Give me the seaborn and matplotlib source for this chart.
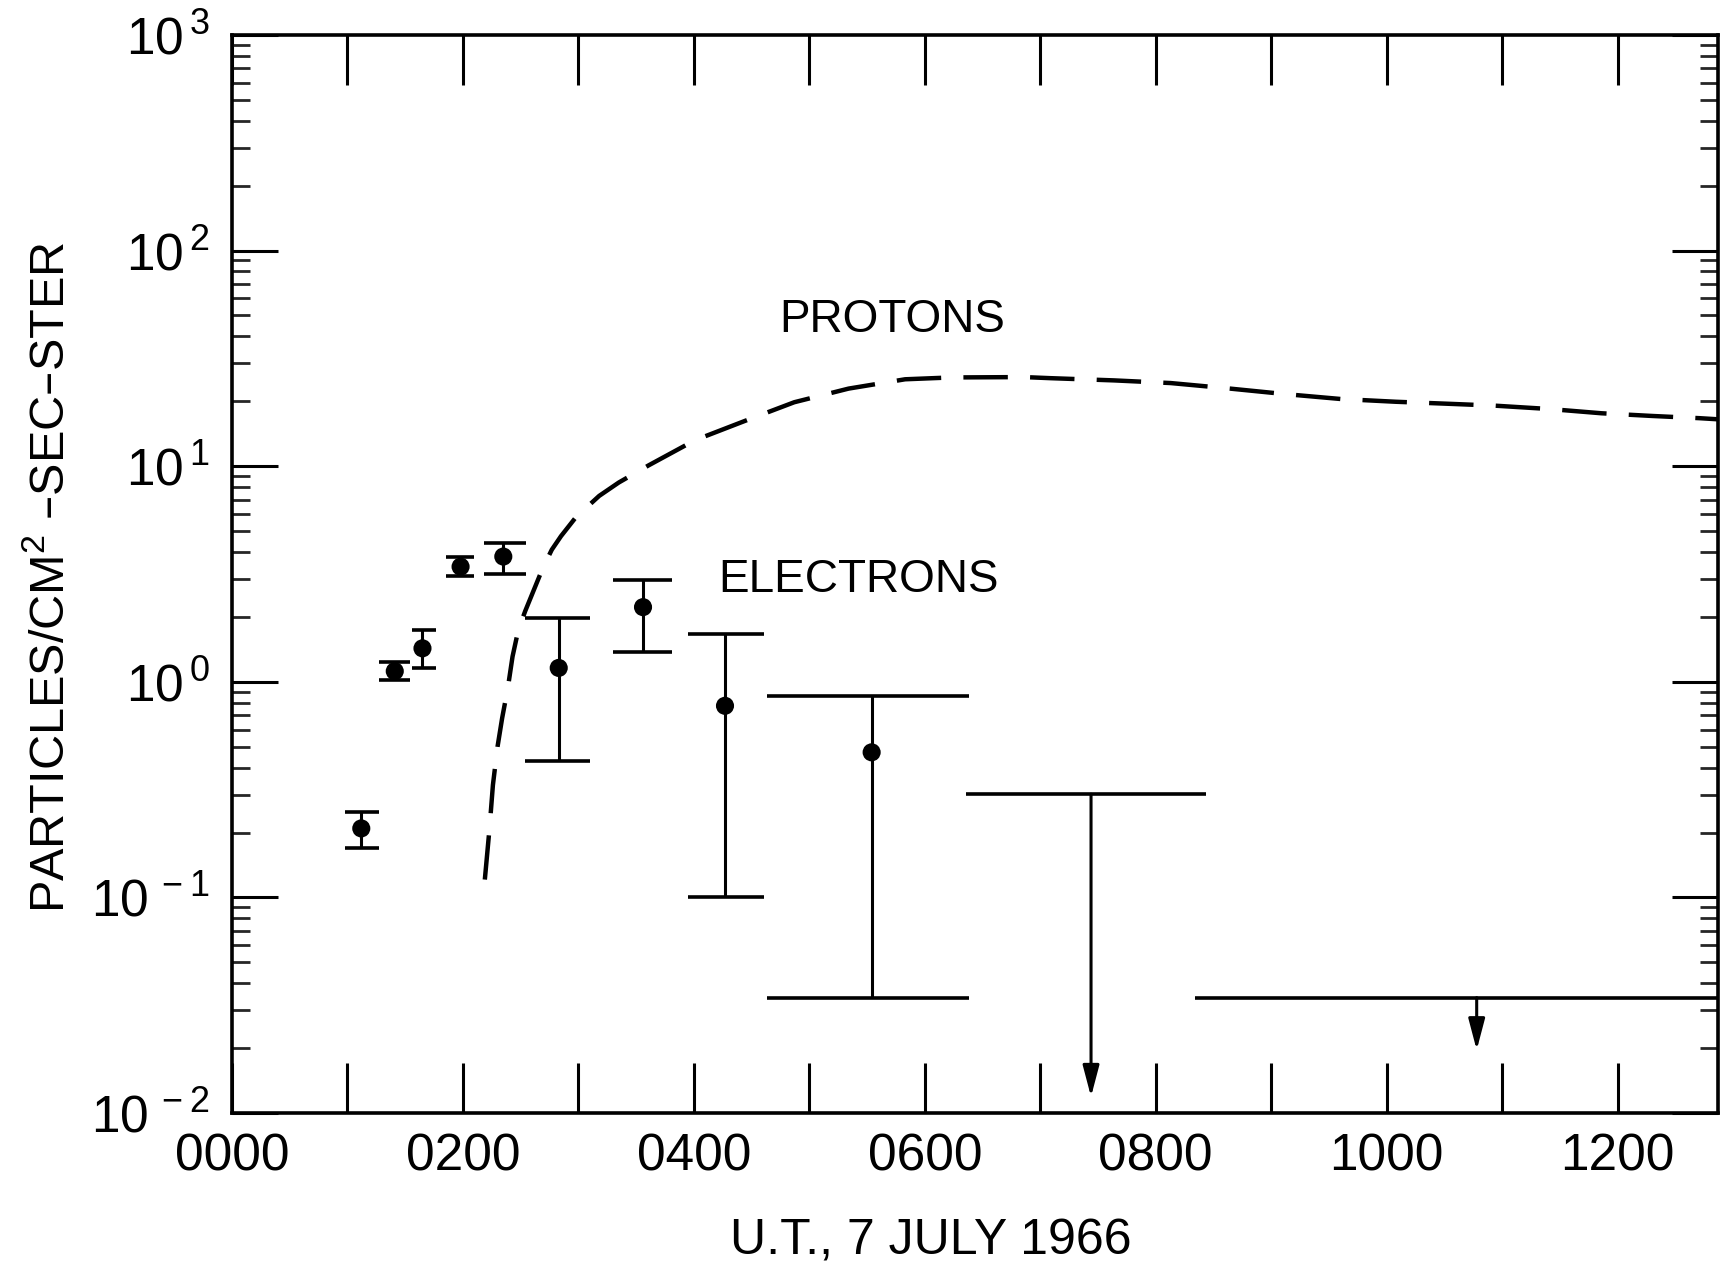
import matplotlib
matplotlib.use("Agg")
import matplotlib.pyplot as plt
import numpy as np
import seaborn as sns
from matplotlib.ticker import FixedLocator, LogLocator, NullFormatter, FuncFormatter

# ── data (hours U.T. on 7 July 1966, flux in particles/cm2-sec-ster) ─────────
elec_time = [1.12, 1.41, 1.65, 1.98, 2.35, 2.83, 3.56, 4.27, 5.54]
elec_flux = [0.209, 1.12, 1.43, 3.42, 3.81, 1.16, 2.22, 0.774, 0.471]
elec_hi = [0.250, 1.24, 1.74, 3.78, 4.42, 1.97, 2.98, 1.66, 0.857]
elec_lo = [0.169, 1.02, 1.16, 3.10, 3.16, 0.43, 1.38, 0.101, 0.034]
elec_start = [0.98, 1.27, 1.56, 1.85, 2.18, 2.54, 3.30, 3.95, 4.63]
elec_end = [1.27, 1.54, 1.77, 2.10, 2.55, 3.10, 3.81, 4.61, 6.38]

# upper limits
lim_time = [7.44, 10.78]
lim_flux = [0.301, 0.0343]
lim_start = [6.36, 8.34]
lim_end = [8.44, 13.2]
lim_arrow_to = [0.0119, 0.0196]

proton_time = [2.19, 2.23, 2.26, 2.30, 2.34, 2.39, 2.43, 2.48, 2.54, 2.69,
               2.77, 2.85, 2.98, 3.18, 3.35, 3.61, 4.01, 4.44, 4.87, 5.34,
               5.83, 6.23, 6.86, 7.09, 7.64, 8.13, 8.61, 9.12, 9.60, 10.08,
               10.51, 10.93, 11.42, 11.86, 12.30, 12.71, 12.87]
proton_flux = [0.121, 0.207, 0.332, 0.500, 0.679, 0.942, 1.31, 1.74, 2.13, 3.35,
               4.10, 4.74, 5.81, 7.28, 8.40, 10.1, 13.2, 16.2, 19.8, 22.9,
               25.3, 25.8, 25.9, 25.6, 25.0, 24.3, 23.0, 21.6, 20.5, 19.9,
               19.5, 19.1, 18.4, 17.6, 17.1, 16.7, 16.5]

hour_ticks = list(range(0, 13))
hour_labels = [f"{h:02d}00" if h % 2 == 0 else "" for h in hour_ticks]

# ── style ────────────────────────────────────────────────────────────────────
sns.set_style("ticks")
plt.rcParams["font.family"] = ["Liberation Sans", "DejaVu Sans"]
plt.rcParams["mathtext.default"] = "regular"
INK = "black"

fig = plt.figure(figsize=(17.31, 12.76), dpi=100)
ax = fig.add_axes([0.134, 0.1277, 0.8585, 0.8449])
ax.set_yscale("log")

# protons (dashed)
sns.lineplot(x=proton_time, y=proton_flux, ax=ax, color=INK, lw=3.2, sort=True)
ax.lines[-1].set_dashes((10, 5))

# electrons: time-interval caps + vertical ranges + dots
ax.vlines(elec_time, elec_lo, elec_hi, color=INK, lw=2.2)
ax.hlines(elec_hi, elec_start, elec_end, color=INK, lw=2.6)
ax.hlines(elec_lo, elec_start, elec_end, color=INK, lw=2.6)
sns.scatterplot(x=elec_time, y=elec_flux, ax=ax, color=INK, s=170,
                edgecolor="none", zorder=5)

# upper limits with arrows
ax.hlines(lim_flux, lim_start, lim_end, color=INK, lw=2.6)
for t, f, tip in zip(lim_time, lim_flux, lim_arrow_to):
    ax.annotate("", xy=(t, tip), xytext=(t, f),
                arrowprops=dict(arrowstyle="-|>,head_length=1.9,head_width=0.5",
                                color=INK, lw=2.2, shrinkA=0, shrinkB=0))

ax.text(5.72, 47.7, "PROTONS", fontsize=33, ha="center", va="center", color=INK)
ax.text(5.43, 2.98, "ELECTRONS", fontsize=33, ha="center", va="center", color=INK)

# ── axes ─────────────────────────────────────────────────────────────────────
ax.set_xlim(0, 12.87)
ax.set_ylim(1e-2, 1e3)
ax.xaxis.set_major_locator(FixedLocator(hour_ticks))
ax.set_xticklabels(hour_labels)
ax.yaxis.set_major_locator(LogLocator(base=10, numticks=10))
ax.yaxis.set_minor_locator(LogLocator(base=10, subs=np.arange(2, 10), numticks=20))
ax.yaxis.set_minor_formatter(NullFormatter())
ax.yaxis.set_major_formatter(FuncFormatter(lambda v, p: rf"$10^{{\,{int(round(np.log10(v)))}}}$"))

ax.tick_params(axis="x", which="major", direction="in", length=36, width=2.2,
               top=True, bottom=True, labelsize=37, pad=14, colors=INK)
ax.tick_params(axis="y", which="major", direction="in", length=33, width=2.2,
               left=True, right=True, labelsize=37, pad=16, colors=INK)
ax.tick_params(axis="y", which="minor", direction="in", length=13, width=2.0,
               left=True, right=True)
for s in ax.spines.values():
    s.set_linewidth(2.6)
    s.set_color(INK)

ax.set_xlabel("U.T., 7 JULY 1966", fontsize=36, color=INK)
ax.xaxis.set_label_coords(0.47, -0.098)
ax.set_ylabel("PARTICLES/CM$^{2}$ \u2013SEC\u2013STER", fontsize=35, color=INK)
ax.yaxis.set_label_coords(-0.106, 0.497)

fig.savefig("out.png", dpi=100)
